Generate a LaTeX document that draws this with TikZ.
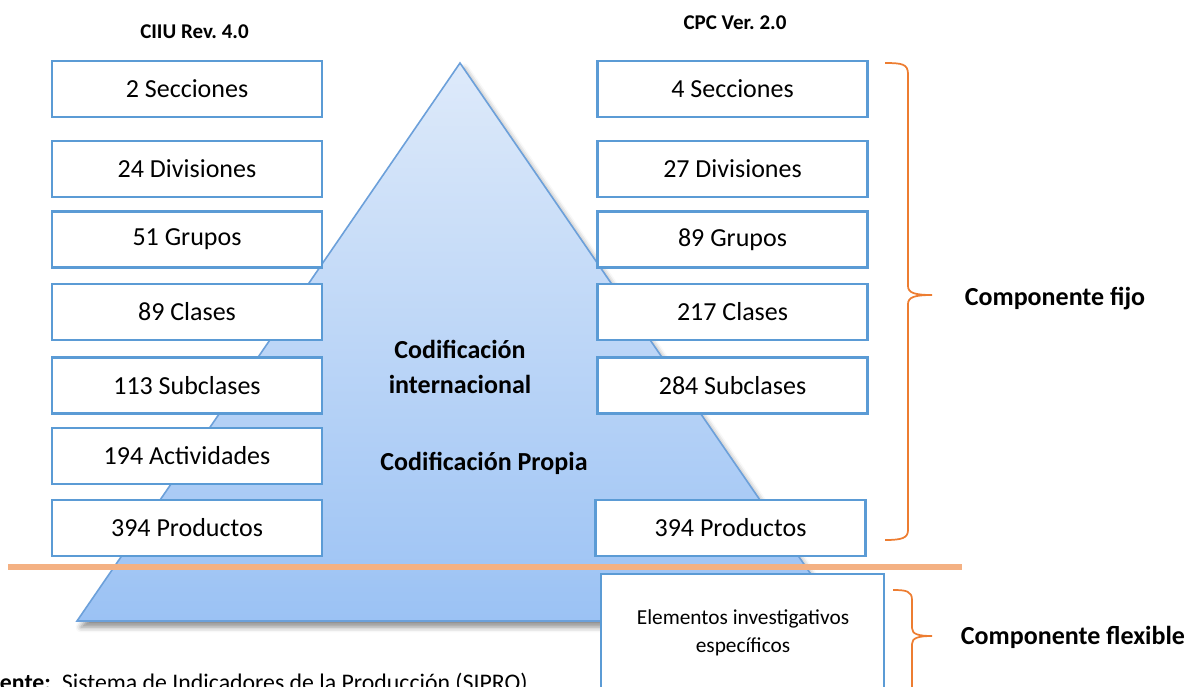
\documentclass[tikz,border=0pt]{standalone}
\usepackage{fontspec}
\setmainfont{Carlito}
\usetikzlibrary{shadows.blur}
\definecolor{boxblue}{RGB}{91,155,213}
\definecolor{triline}{RGB}{108,160,218}
\definecolor{tritop}{RGB}{222,234,250}
\definecolor{tribot}{RGB}{155,194,244}
\definecolor{sepline}{RGB}{244,177,131}
\definecolor{bracecol}{RGB}{237,125,49}
\frenchspacing
\begin{document}
\begin{tikzpicture}[x=0.75pt,y=-0.75pt,
  cbox/.style={draw=boxblue, line width=1.9pt, fill=white, minimum width=202.5pt,
    minimum height=42pt, inner sep=0pt, font=\fontsize{19.5}{23}\selectfont},
  hdr/.style={font=\fontsize{15.75}{19}\selectfont\bfseries, inner sep=0pt},
  bigbold/.style={font=\fontsize{19.5}{26.25}\selectfont\bfseries, inner sep=0pt, align=center},
  bracepath/.style={draw=bracecol, line width=1.3pt},
  tri/.style={draw=triline, line width=1.2pt, top color=tritop, bottom color=tribot,
    blur shadow={shadow xshift=3pt, shadow yshift=-4.5pt, shadow blur radius=4pt, shadow opacity=45}}
]
\useasboundingbox (0,0) rectangle (1191,686);
\clip (0,0) rectangle (1191,686);

% pyramid
\coordinate (apex) at (460,63);
\coordinate (bl) at (77,621);
\coordinate (br) at (843,621);
\draw[tri] (apex) -- (br) -- (bl) -- cycle;

% headers
\node[hdr] (h1) at (194.5,32) {CIIU Rev. 4.0};
\node[hdr] (h2) at (735,23) {CPC Ver. 2.0};

% left column
\node[cbox] (l1) at (187,89) {2 Secciones};
\node[cbox] (l2) at (187,169) {24 Divisiones};
\node[cbox] (l3) at (187,239.5) {51 Grupos};
\node[cbox] (l4) at (187,312) {89 Clases};
\node[cbox] (l5) at (187,385.5) {113 Subclases};
\node[cbox] (l6) at (187,456) {194 Actividades};
\node[cbox] (l7) at (187,528) {394 Productos};

% right column
\node[cbox] (r1) at (732.5,89) {4 Secciones};
\node[cbox] (r2) at (732.5,169) {27 Divisiones};
\node[cbox] (r3) at (732.5,239.5) {89 Grupos};
\node[cbox] (r4) at (732.5,312) {217 Clases};
\node[cbox] (r5) at (732.5,385.5) {284 Subclases};
\node[cbox] (r7) at (730.5,528) {394 Productos};

% pyramid texts
\node[bigbold] (ci) at (460,366.5) {Codificación\\internacional};
\node[bigbold] (cp) at (484,463) {Codificación Propia};

% separator line
\coordinate (s1) at (8,567);
\coordinate (s2) at (962,567);
\draw[sepline, line width=4.5pt] (s1) -- (s2);

% flexible box
\draw[draw=boxblue, line width=1.9pt, fill=white] (601,574) rectangle (884,740);
\node[font=\fontsize{16}{21}\selectfont, align=center, inner sep=0pt] (el) at (743,633)
  {Elementos investigativos\\específicos};

% braces
\draw[bracepath] (885,63) .. controls (902,63) and (908,64) .. (908,74) -- (908,286)
  .. controls (908,293) and (915,295) .. (932,295)
  .. controls (915,295) and (908,297) .. (908,304) -- (908,530)
  .. controls (908,538) and (902,540) .. (885,540);
\draw[bracepath] (893,590) .. controls (906,590) and (912,591) .. (912,600) -- (912,628)
  .. controls (912,634) and (918,636) .. (932,636)
  .. controls (918,636) and (912,638) .. (912,644) -- (912,700);

\node[bigbold] (cf) at (1055,299) {Componente fijo};
\node[bigbold] (cx) at (1073,637) {Componente flexible};

% source caption
\node[anchor=base west, inner sep=0pt, font=\fontsize{17.85}{22}\selectfont] (src) at (-24,690)
  {\textbf{Fuente:}\hspace{8.2pt}Sistema de Indicadores de la Producción (SIPRO)};
\end{tikzpicture}
\end{document}
